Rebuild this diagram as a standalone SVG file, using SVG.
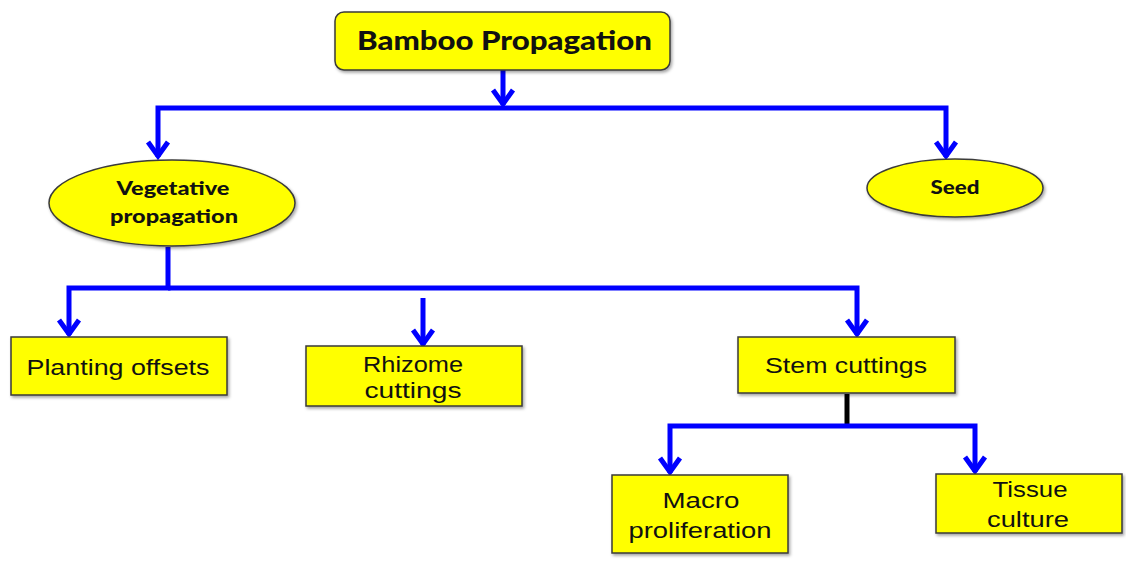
<svg xmlns="http://www.w3.org/2000/svg" width="1126" height="561" viewBox="0 0 1126 561">
<style>
.box{fill:#ffff00;stroke:#3a3a3a;stroke-width:1.5;filter:url(#sh)}
.lbl{font-family:"Liberation Sans",Arial,sans-serif;font-size:22px;fill:#111;text-anchor:middle}
.hd{font-family:Lato,"Liberation Sans",sans-serif;font-weight:900;fill:#111;text-anchor:middle}
.con{fill:none;stroke:#0000ff;stroke-width:5}
</style>
<defs>
<filter id="sh" x="-10%" y="-10%" width="125%" height="130%">
<feDropShadow dx="1.5" dy="2" stdDeviation="1.5" flood-color="#000" flood-opacity="0.35"/>
</filter>
<marker id="ah" markerUnits="userSpaceOnUse" orient="auto" refX="0" refY="0" markerWidth="30" markerHeight="30" overflow="visible">
<path d="M-15,-10 L-1,0 L-15,10" fill="none" stroke="#0000ff" stroke-width="5" stroke-linejoin="miter"/>
</marker>
</defs>
<rect width="1126" height="561" fill="#ffffff"/>
<g id="connectors">
<path class="con" d="M503,70 V105" marker-end="url(#ah)"/>
<path class="con" d="M503,108 H158 V157" marker-end="url(#ah)"/>
<path class="con" d="M503,108 H946 V157" marker-end="url(#ah)"/>
<path class="con" d="M168,247 V288 H69 V335" marker-end="url(#ah)"/>
<path class="con" d="M168,288 H857 V335" marker-end="url(#ah)"/>
<path class="con" d="M423,298 V345" marker-end="url(#ah)"/>
<path fill="none" stroke="#000" stroke-width="5" d="M847,394 V426"/>
<path class="con" d="M847,426 H670 V473" marker-end="url(#ah)"/>
<path class="con" d="M847,426 H975 V472" marker-end="url(#ah)"/>
</g>
<g id="n-title">
<rect class="box" x="335" y="12" width="335" height="58" rx="9"/>
<text class="hd" x="504.5" y="50" font-size="26" textLength="295" lengthAdjust="spacingAndGlyphs">Bamboo Propagation</text>
</g>
<g id="n-vegetative">
<ellipse class="box" cx="172" cy="203" rx="123" ry="43"/>
<text class="hd" x="173" y="195" font-size="18.5" textLength="113" lengthAdjust="spacingAndGlyphs">Vegetative</text>
<text class="hd" x="174" y="223" font-size="18.5" textLength="128" lengthAdjust="spacingAndGlyphs">propagation</text>
</g>
<g id="n-seed">
<ellipse class="box" cx="955" cy="188" rx="88" ry="29"/>
<text class="hd" x="955" y="194" font-size="18.5" textLength="49" lengthAdjust="spacingAndGlyphs">Seed</text>
</g>
<g id="n-planting">
<rect class="box" x="11" y="337" width="216" height="58"/>
<text class="lbl" x="118" y="375" textLength="183" lengthAdjust="spacingAndGlyphs">Planting offsets</text>
</g>
<g id="n-rhizome">
<rect class="box" x="306" y="346" width="216" height="60"/>
<text class="lbl" x="413" y="372" textLength="100" lengthAdjust="spacingAndGlyphs">Rhizome</text>
<text class="lbl" x="413" y="398" textLength="97" lengthAdjust="spacingAndGlyphs">cuttings</text>
</g>
<g id="n-stem">
<rect class="box" x="738" y="337" width="217" height="56"/>
<text class="lbl" x="846" y="373" textLength="162" lengthAdjust="spacingAndGlyphs">Stem cuttings</text>
</g>
<g id="n-macro">
<rect class="box" x="612" y="475" width="176" height="78"/>
<text class="lbl" x="701" y="508" textLength="77" lengthAdjust="spacingAndGlyphs">Macro</text>
<text class="lbl" x="700" y="538" textLength="143" lengthAdjust="spacingAndGlyphs">proliferation</text>
</g>
<g id="n-tissue">
<rect class="box" x="936" y="474" width="186" height="59"/>
<text class="lbl" x="1030" y="497" textLength="75" lengthAdjust="spacingAndGlyphs">Tissue</text>
<text class="lbl" x="1028" y="527" textLength="82" lengthAdjust="spacingAndGlyphs">culture</text>
</g>
</svg>
